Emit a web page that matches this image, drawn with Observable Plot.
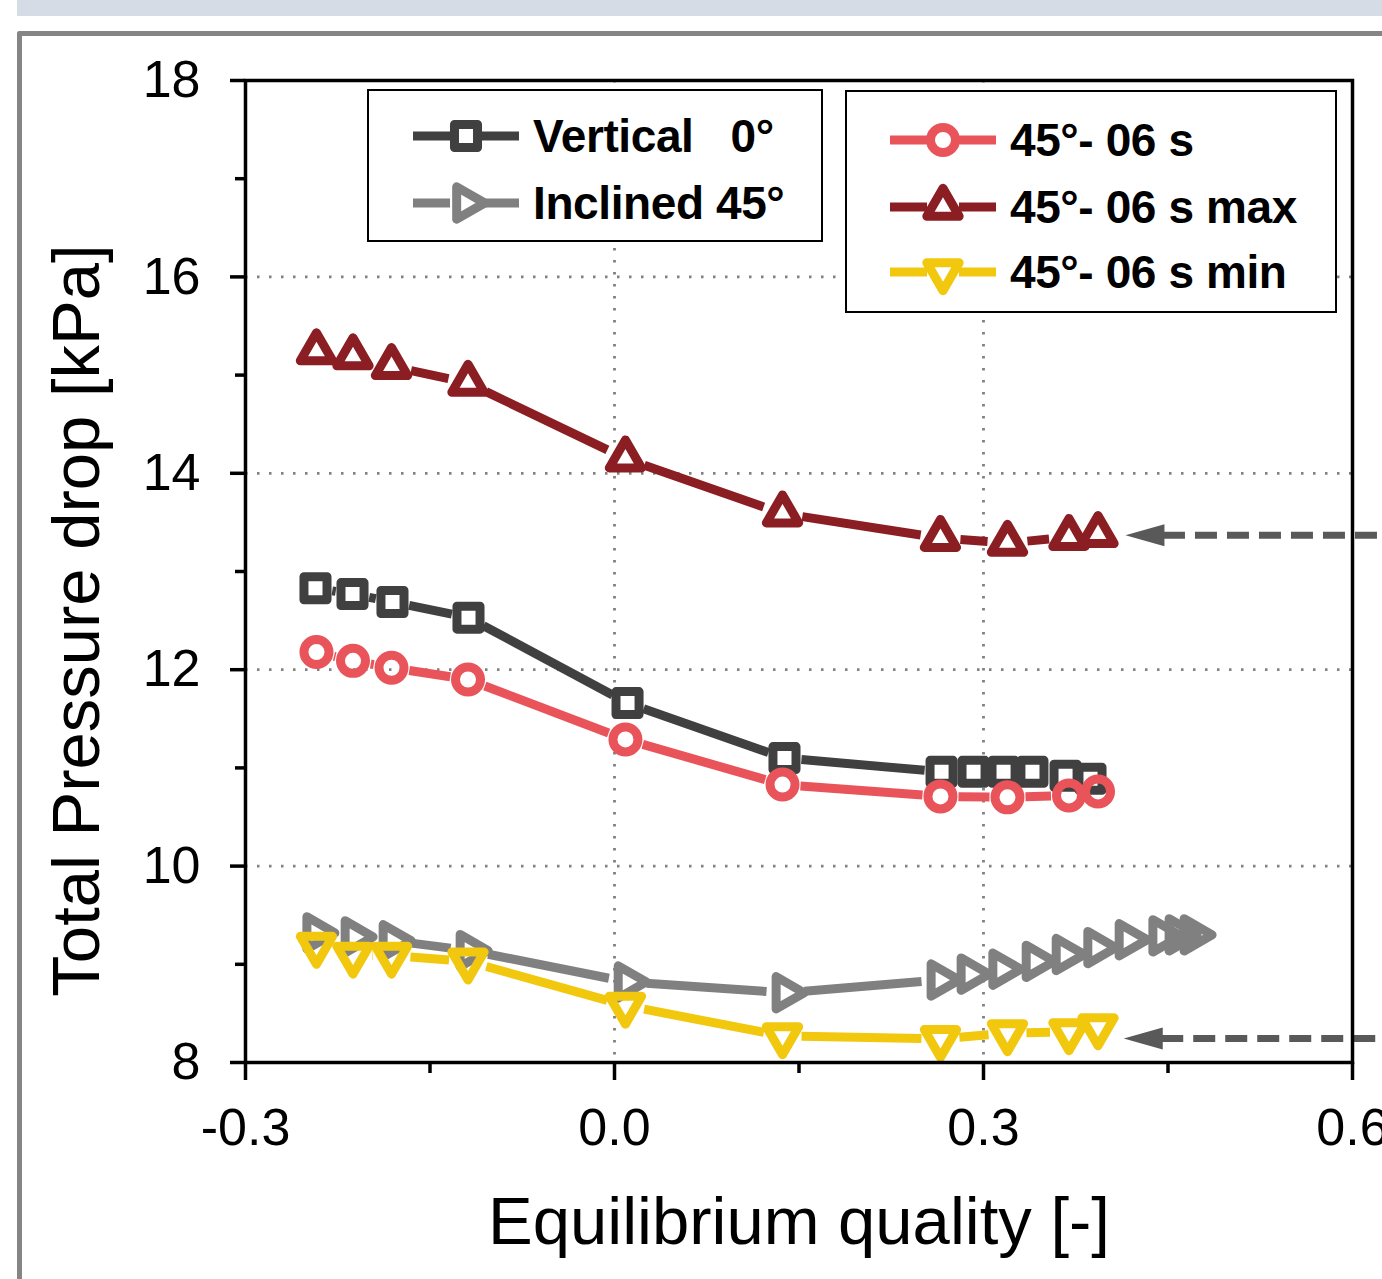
<!DOCTYPE html>
<html>
<head>
<meta charset="utf-8">
<script src="https://cdn.jsdelivr.net/npm/d3@7"></script>
<script src="https://cdn.jsdelivr.net/npm/@observablehq/plot@0.6"></script>
<style>
  html, body { margin: 0; padding: 0; width: 1382px; height: 1279px; overflow: hidden; background: #fff;
    font-family: "Liberation Sans", Arial, Helvetica, sans-serif; }
  #band { position: absolute; left: 17px; top: 0; width: 1400px; height: 16px; background: #d5dce6; }
  #frame { position: absolute; left: 17px; top: 31px; width: 1400px; height: 1300px;
    border-left: 5px solid #858585; border-top: 5px solid #858585; border-top-left-radius: 3px; }
  #chart { position: absolute; left: 0; top: 0; }
  .legend { position: absolute; box-sizing: border-box; border: 2px solid #000; background: #fff; }
  .row { position: absolute; height: 60px; left: 0; display: flex; align-items: center; }
  .row svg { position: absolute; top: 0; }
  .row span { position: absolute; white-space: pre; font-weight: bold; font-size: 46px; letter-spacing: -0.4px;
    color: #000; line-height: 60px; top: 0; }
</style>
</head>
<body>
<div id="band"></div>
<div id="frame"></div>
<div id="chart"></div>
<script>
// ---------------- data ----------------
const seriesNames = ["Vertical   0°", "Inclined 45°", "45°- 06 s", "45°- 06 s max", "45°- 06 s min"];

const xVertical = [-0.2431, -0.2130, -0.1805, -0.1187, 0.0106, 0.1382, 0.2659, 0.2919, 0.3163, 0.3398, 0.3667, 0.3870];
const yVertical = [12.83, 12.77, 12.69, 12.53, 11.66, 11.10, 10.96, 10.96, 10.96, 10.96, 10.92, 10.89];

const xInclined = [-0.2425, -0.2114, -0.1805, -0.1179, 0.0106, 0.1390, 0.2650, 0.2894, 0.3152, 0.3423, 0.3667, 0.3924, 0.4179, 0.4453, 0.4585, 0.4707];
const yInclined = [9.32, 9.28, 9.24, 9.14, 8.82, 8.71, 8.84, 8.90, 8.95, 9.03, 9.10, 9.17, 9.25, 9.29, 9.30, 9.30];

const x06s = [-0.2423, -0.2126, -0.1813, -0.1191, 0.0089, 0.1366, 0.2650, 0.3195, 0.3695, 0.3931];
const y06s = [12.18, 12.09, 12.02, 11.90, 11.29, 10.83, 10.71, 10.70, 10.72, 10.76];
const y06sMax = [15.24, 15.19, 15.09, 14.92, 14.15, 13.59, 13.34, 13.29, 13.35, 13.38];
const y06sMin = [9.19, 9.09, 9.09, 9.03, 8.58, 8.27, 8.24, 8.30, 8.31, 8.36];

// annotation arrows (pointing at the max / min curves from the right)
const arrowY = [13.37, 8.245];
const arrowTipX = [0.4154, 0.4140];
const arrowTailX = [0.66, 0.66];

const xTickValues = [-0.3, 0.0, 0.3, 0.6];
const xTickLabels = ["-0.3", "0.0", "0.3", "0.6"];
const xMinorTicks = [-0.15, 0.15, 0.45];
const yTickValues = [8, 10, 12, 14, 16, 18];
const yTickLabels = ["8", "10", "12", "14", "16", "18"];
const yMinorTicks = [9, 11, 13, 15, 17];
const xGridValues = [0.0, 0.3];
const yGridValues = [10, 12, 14, 16];

const xAxisLabel = "Equilibrium quality [-]";
const yAxisLabel = "Total Pressure drop [kPa]";

// ---------------- symbols ----------------
const sqrt3 = Math.sqrt(3);
const triangleDown = { draw(ctx, size) { const y = -Math.sqrt(size / (sqrt3 * 3));
  ctx.moveTo(0, -y * 2); ctx.lineTo(-sqrt3 * y, y); ctx.lineTo(sqrt3 * y, y); ctx.closePath(); } };
const triangleRight = { draw(ctx, size) { const y = -Math.sqrt(size / (sqrt3 * 3));
  ctx.moveTo(-y * 2, 0); ctx.lineTo(y, -sqrt3 * y); ctx.lineTo(y, sqrt3 * y); ctx.closePath(); } };
const arrowHead = { draw(ctx) { ctx.moveTo(0, 0); ctx.lineTo(39, -11); ctx.lineTo(39, 11); ctx.closePath(); } };

// ---------------- styles ----------------
const markerStroke = 9;
const lineStroke = 9;
const styles = [
  { color: "#404040", symbol: "square", d3sym: d3.symbolSquare, r: 13, inset: 17 },
  { color: "#808080", symbol: triangleRight, d3sym: triangleRight, r: 12, inset: 19 },
  { color: "#E9545B", symbol: "circle", d3sym: d3.symbolCircle, r: 12.5, inset: 18 },
  { color: "#8B1E22", symbol: "triangle", d3sym: d3.symbolTriangle, r: 12, inset: 20 },
  { color: "#F2C80F", symbol: triangleDown, d3sym: triangleDown, r: 12, inset: 19 }
];

const seriesXY = [
  [xVertical, yVertical], [xInclined, yInclined], [x06s, y06s], [x06s, y06sMax], [x06s, y06sMin]
];

const points = (k) => seriesXY[k][0].map((x, i) => ({ series: seriesNames[k], x, y: seriesXY[k][1][i] }));
const segments = (k) => seriesXY[k][0].slice(1).map((x, i) => ({
  x1: seriesXY[k][0][i], y1: seriesXY[k][1][i], x2: x, y2: seriesXY[k][1][i + 1] }));

const fontFamily = '"Liberation Sans", Arial, Helvetica, sans-serif';
const gridStyle = { stroke: "#808080", strokeOpacity: 1, strokeWidth: 2.8, strokeDasharray: "2.5,9.5" };
const annotations = arrowY.map((y, i) => ({ y, tip: arrowTipX[i], base: arrowTipX[i] + 0.0305, tail: arrowTailX[i] }));

const seriesMarks = [];
styles.forEach((s, k) => {
  seriesMarks.push(Plot.arrow(segments(k), { x1: "x1", y1: "y1", x2: "x2", y2: "y2", stroke: s.color,
    strokeWidth: lineStroke, headLength: 0, insetStart: s.inset, insetEnd: s.inset, strokeLinecap: "butt" }));
  seriesMarks.push(Plot.dot(points(k), { x: "x", y: "y", symbol: s.symbol, r: s.r, stroke: s.color,
    strokeWidth: markerStroke, fill: "none", strokeLinejoin: "round" }));
});

const chart = Plot.plot({
  width: 1382, height: 1279,
  marginTop: 80, marginBottom: 217, marginLeft: 245, marginRight: 30,
  x: { domain: [-0.3, 0.6], label: null },
  y: { domain: [8, 18], label: null },
  style: { background: "transparent", fontFamily, fontSize: "52px", color: "#000", overflow: "visible" },
  marks: [
    Plot.gridY(yGridValues, gridStyle),
    Plot.gridX(xGridValues, gridStyle),
    ...seriesMarks,
    Plot.link(annotations, { x1: "base", x2: "tail", y1: "y", y2: "y", stroke: "#595959", strokeWidth: 7,
      strokeDasharray: "22,10" }),
    Plot.dot(annotations, { x: "tip", y: "y", symbol: arrowHead, r: 10, fill: "#595959", stroke: "none" }),
    Plot.frame({ stroke: "#000", strokeWidth: 3.5 }),
    Plot.axisX(xTickValues, { tickSize: 18, tickPadding: 28, strokeWidth: 3.5, label: null,
      tickFormat: (d) => xTickLabels[xTickValues.indexOf(d)] }),
    Plot.axisX(xMinorTicks, { tickSize: 11, strokeWidth: 3.5, label: null, tickFormat: () => "" }),
    Plot.axisY(yTickValues, { tickSize: 15, tickPadding: 30, strokeWidth: 3.5, label: null,
      tickFormat: (d) => yTickLabels[yTickValues.indexOf(d)] }),
    Plot.axisY(yMinorTicks, { tickSize: 10, strokeWidth: 3.5, label: null, tickFormat: () => "" }),
    Plot.text([xAxisLabel], { text: (d) => d, frameAnchor: "bottom", textAnchor: "middle", lineAnchor: "middle",
      dy: 159.6, fontSize: 67, fill: "#000" }),
    Plot.text([yAxisLabel], { text: (d) => d, frameAnchor: "left", textAnchor: "middle", lineAnchor: "middle",
      dx: -168.4, dy: 49, rotate: -90, fontSize: 67, fill: "#000" })
  ]
});
document.getElementById("chart").appendChild(chart);

// ---------------- legends ----------------
const legendBoxes = [
  { items: [0, 1], left: 367, top: 89, width: 456, height: 153, rowCenters: [45, 112], sampleLeft: 44, textLeft: 164 },
  { items: [2, 3, 4], left: 845, top: 90, width: 492, height: 223, rowCenters: [48, 115, 180], sampleLeft: 43, textLeft: 163 }
];
legendBoxes.forEach((b) => {
  const box = d3.select("body").append("div").attr("class", "legend")
    .style("left", b.left + "px").style("top", b.top + "px")
    .style("width", b.width + "px").style("height", b.height + "px");
  b.items.forEach((k, j) => {
    const s = styles[k];
    const row = box.append("div").attr("class", "row").style("top", (b.rowCenters[j] - 30) + "px");
    const svg = row.append("svg").attr("width", 106).attr("height", 60).style("left", b.sampleLeft + "px");
    const gap = 16;
    svg.append("line").attr("x1", 0).attr("x2", 53 - gap).attr("y1", 30).attr("y2", 30)
      .attr("stroke", s.color).attr("stroke-width", lineStroke);
    svg.append("line").attr("x1", 53 + gap).attr("x2", 106).attr("y1", 30).attr("y2", 30)
      .attr("stroke", s.color).attr("stroke-width", lineStroke);
    svg.append("path").attr("transform", "translate(53,30)")
      .attr("d", d3.symbol(s.d3sym, Math.PI * s.r * s.r)())
      .attr("fill", "none").attr("stroke", s.color).attr("stroke-width", markerStroke).attr("stroke-linejoin", "round");
    row.append("span").style("left", b.textLeft + "px").text(seriesNames[k]);
  });
});
</script>
</body>
</html>
